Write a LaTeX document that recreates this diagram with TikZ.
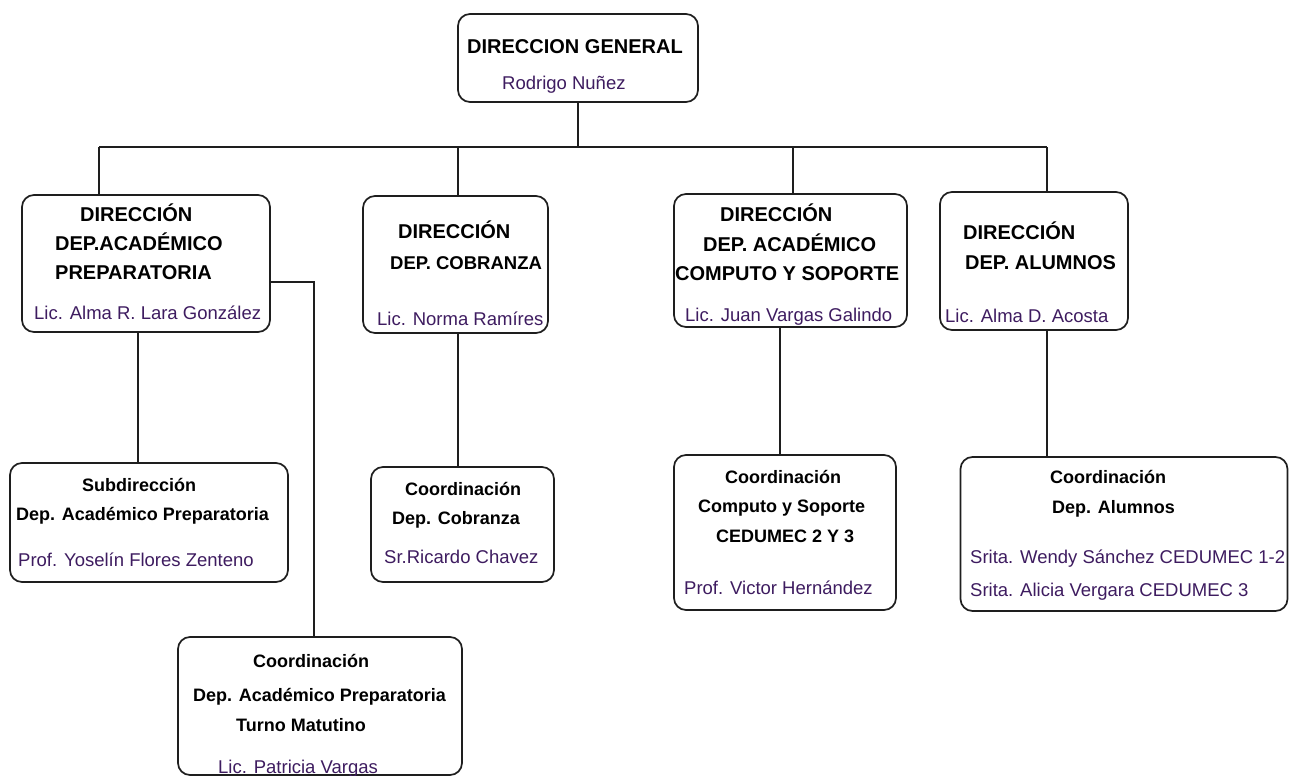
\documentclass[tikz,border=0pt]{standalone}
\usepackage{fontspec}
\setmainfont{Liberation Sans}
\definecolor{namecol}{RGB}{62,28,96}
\definecolor{linecol}{RGB}{30,30,30}
\begin{document}
\begin{tikzpicture}[x=1pt,y=-1pt,
  box/.style={draw=linecol,line width=1.7pt,rounded corners=12pt,inner sep=0pt,fill=white},
  conn/.style={draw=linecol,line width=1.7pt},
  hb/.style={anchor=base west,inner sep=0pt,font=\fontsize{20}{24}\selectfont\bfseries},
  hs/.style={anchor=base west,inner sep=0pt,font=\fontsize{18}{21}\selectfont\bfseries},
  nm/.style={anchor=base west,inner sep=0pt,text=namecol,font=\fontsize{18.5}{22}\selectfont}]
\useasboundingbox (0,0) rectangle (1290,776);
% boxes
\node[box,minimum width=240pt,minimum height=88pt] (t) at (578,58) {};
\node[box,minimum width=248pt,minimum height=137pt] (b1) at (146,263.5) {};
\node[box,minimum width=185pt,minimum height=137pt] (b2) at (455.5,264.5) {};
\node[box,minimum width=233pt,minimum height=133pt] (b3) at (790.5,260.5) {};
\node[box,minimum width=188pt,minimum height=138pt] (b4) at (1034,261) {};
\node[box,minimum width=278pt,minimum height=119pt] (s1) at (149,522.5) {};
\node[box,minimum width=183pt,minimum height=115pt] (s2) at (462.5,524.5) {};
\node[box,minimum width=284pt,minimum height=138pt] (s3) at (320,706) {};
\node[box,minimum width=222pt,minimum height=155pt] (s4) at (785,532.5) {};
\node[box,minimum width=327pt,minimum height=154pt] (s5) at (1124,534) {};
% connectors
\coordinate (busL) at (99,147);
\coordinate (busR) at (1047,147);
\coordinate (c2) at (458,147);
\coordinate (c3) at (793,147);
\coordinate (k) at (314,282);
\coordinate (d1) at (138,0);
\coordinate (d3) at (780,0);
\draw[conn] (t.south) -- (t.south |- busL);
\draw[conn] (busL) -- (busR);
\draw[conn] (busL) -- (busL |- b1.north);
\draw[conn] (c2) -- (c2 |- b2.north);
\draw[conn] (c3) -- (c3 |- b3.north);
\draw[conn] (busR) -- (busR |- b4.north);
\draw[conn] (d1 |- b1.south) -- (d1 |- s1.north);
\draw[conn] (k -| b1.east) -- (k) -- (k |- s3.north);
\draw[conn] (c2 |- b2.south) -- (c2 |- s2.north);
\draw[conn] (d3 |- b3.south) -- (d3 |- s4.north);
\draw[conn] (busR |- b4.south) -- (busR |- s5.north);
% texts
\node[hb] (t1) at (467,53) {DIRECCION GENERAL};
\node[nm] (t2) at (502,89) {Rodrigo Nuñez};
\node[hb] (b1a) at (80,221) {DIRECCIÓN};
\node[hb] (b1b) at (55,250) {DEP.ACADÉMICO};
\node[hb] (b1c) at (55,279) {PREPARATORIA};
\node[nm] (b1d) at (34,319) {Lic. Alma R. Lara González};
\node[hb] (b2a) at (398,238) {DIRECCIÓN};
\node[hb,font=\fontsize{18.5}{22}\selectfont\bfseries] (b2b) at (390,269) {DEP. COBRANZA};
\node[nm] (b2c) at (377,325) {Lic. Norma Ramíres};
\node[hb] (b3a) at (720,221) {DIRECCIÓN};
\node[hb] (b3b) at (703,251) {DEP. ACADÉMICO};
\node[hb] (b3c) at (675,280) {COMPUTO Y SOPORTE};
\node[nm] (b3d) at (685,321) {Lic. Juan Vargas Galindo};
\node[hb] (b4a) at (963,239) {DIRECCIÓN};
\node[hb] (b4b) at (965,269) {DEP. ALUMNOS};
\node[nm] (b4c) at (945,322) {Lic. Alma D. Acosta};
\node[hs] (s1a) at (82,491) {Subdirección};
\node[hs] (s1b) at (16,520) {Dep. Académico Preparatoria};
\node[nm] (s1c) at (18,566) {Prof. Yoselín Flores Zenteno};
\node[hs] (s2a) at (405,495) {Coordinación};
\node[hs] (s2b) at (392,524) {Dep. Cobranza};
\node[nm] (s2c) at (384,563) {Sr.Ricardo Chavez};
\node[hs] (s3a) at (253,667) {Coordinación};
\node[hs] (s3b) at (193,701) {Dep. Académico Preparatoria};
\node[hs] (s3c) at (236,731) {Turno Matutino};
\node[nm] (s3d) at (218,773) {Lic. Patricia Vargas};
\node[hs] (s4a) at (725,483) {Coordinación};
\node[hs] (s4b) at (698,512) {Computo y Soporte};
\node[hs] (s4c) at (716,542) {CEDUMEC 2 Y 3};
\node[nm] (s4d) at (684,594) {Prof. Victor Hernández};
\node[hs] (s5a) at (1050,483) {Coordinación};
\node[hs] (s5b) at (1052,513) {Dep. Alumnos};
\node[nm] (s5c) at (970,563) {Srita. Wendy Sánchez CEDUMEC 1-2};
\node[nm] (s5d) at (970,596) {Srita. Alicia Vergara CEDUMEC 3};
\end{tikzpicture}
\end{document}
